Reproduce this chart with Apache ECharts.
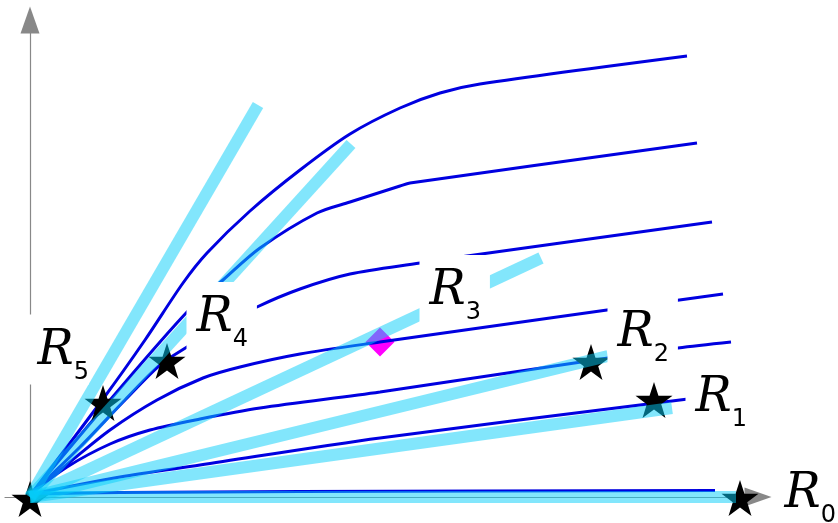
<!DOCTYPE html>
<html>
<head>
<meta charset="utf-8">
<script src="https://cdn.jsdelivr.net/npm/echarts@6/dist/echarts.min.js"></script>
<style>
  html, body { margin: 0; padding: 0; background: #fff; }
  #chart { width: 838px; height: 523px; }
</style>
</head>
<body>
<div id="chart"></div>
<script>
// Rays R0..R5 leaving the origin: end point of each ray
const rayEnds = [[706, 0], [642, 89], [578, 141], [511, 239], [321, 353], [228, 392]];

// Flow curves leaving the origin, from the bottom one to the top one
const curveG = [[2, 3], [90, 4.5], [270, 5.5], [685, 6.5]];
const curveF = [[2, 3], [90, 20], [170, 32], [350, 59], [658, 98]];
const curveE = [[2, 4], [37, 30], [80, 53], [120, 67], [170, 78], [230, 89], [350, 105], [578, 139], [648, 149], [701, 155]];
const curveD = [[2, 4], [40, 35], [80, 67], [127, 97], [173, 119], [210, 130], [270, 143], [350, 155], [520, 179], [693, 203]];
const curveC = [[2, 4], [50, 50], [95, 97], [130, 132], [157, 150], [190, 170], [227, 190], [270, 208], [320, 223], [390, 234], [437, 241], [682, 275]];
const curveB = [[2, 4], [80, 97], [157, 185], [193, 217], [230, 249], [287, 284], [320, 295], [370, 311], [380, 314], [667, 354]];
const curveA = [[2, 4], [73, 98], [115, 157], [153, 214], [177, 244], [220, 286], [270, 327], [320, 363], [370, 389], [410, 404], [450, 413], [657, 441]];

// Marked points
const starPoints = [[0, -2], [73, 94], [137, 136], [561, 135], [624, 97], [710, -1]];
const diamondPoints = [[350, 155]];

// Ray names R_k and where their boxes sit (top-left corner)
const labelIndices = ['0', '1', '2', '3', '4', '5'];
const labelAnchors = [[745, 38.5], [656, 134.5], [578, 199.5], [390, 241.5], [157, 214.5], [-2, 182]];

const STAR = 'path://M50,0 L61.8,35.1 L98.9,35.1 L69.1,57.3 L80.3,92.7 L50,70.5 L19.7,92.7 L30.9,57.3 L1.1,35.1 L38.2,35.1 Z';
const BLUE = '#0000e0';
const CYAN = 'rgba(5,205,249,0.5)';

const curves = [curveA, curveB, curveC, curveD, curveE, curveF, curveG];

const series = [];

series.push({
  type: 'scatter',
  z: 1,
  clip: false,
  symbol: 'diamond',
  symbolSize: 29,
  itemStyle: { color: '#ff00ff', opacity: 1 },
  data: diamondPoints,
  silent: true
});

curves.forEach(function (c) {
  series.push({
    type: 'line',
    z: 2,
    data: c,
    smooth: 0.3,
    showSymbol: false,
    clip: false,
    lineStyle: { color: BLUE, width: 3 },
    silent: true
  });
});

series.push({
  type: 'scatter',
  z: 3,
  clip: false,
  symbol: STAR,
  symbolSize: [37, 36],
  itemStyle: { color: '#000', opacity: 1 },
  data: starPoints,
  silent: true
});

rayEnds.forEach(function (e) {
  series.push({
    type: 'line',
    z: 4,
    data: [[0, 0], e],
    showSymbol: false,
    clip: false,
    lineStyle: { color: CYAN, width: 12, cap: 'butt' },
    silent: true
  });
});

series.push({
  type: 'scatter',
  z: 10,
  clip: false,
  symbolSize: 1,
  itemStyle: { color: 'rgba(0,0,0,0)', opacity: 1 },
  data: labelAnchors.map(function (p, i) {
    const item = { value: p, name: labelIndices[i] };
    // the R5 box stays clear of the steepest ray
    if (labelIndices[i] === '5') item.label = { padding: [13, 0, 0, 10] };
    return item;
  }),
  silent: true,
  label: {
    show: true,
    position: [0, 0],
    align: 'left',
    verticalAlign: 'top',
    backgroundColor: '#fff',
    opacity: 1,
    padding: [13, 9, 0, 10],
    formatter: function (p) { return '{r|R}{s|' + p.name + '}'; },
    rich: {
      r: { fontFamily: '"DejaVu Serif"', fontStyle: 'italic', fontSize: 48, lineHeight: 57, verticalAlign: 'top', color: '#000' },
      s: { fontFamily: '"DejaVu Sans"', fontSize: 24, verticalAlign: 'bottom', color: '#000' }
    }
  }
});

const chart = echarts.init(document.getElementById('chart'), null, { renderer: 'canvas' });
chart.setOption({
  animation: false,
  backgroundColor: '#fff',
  grid: { left: 5, right: 80, top: 20, bottom: 26, containLabel: false },
  xAxis: {
    type: 'value', min: -25, max: 728,
    axisLine: { show: true, onZero: true, symbol: ['none', 'triangle'], symbolSize: [19, 27], lineStyle: { color: '#888', width: 1.2 } },
    axisTick: { show: false }, axisLabel: { show: false }, splitLine: { show: false }
  },
  yAxis: {
    type: 'value', min: 0, max: 477,
    axisLine: { show: true, onZero: true, symbol: ['none', 'triangle'], symbolSize: [19, 27], lineStyle: { color: '#888', width: 1.2 } },
    axisTick: { show: false }, axisLabel: { show: false }, splitLine: { show: false }
  },
  series: series
});
</script>
</body>
</html>
